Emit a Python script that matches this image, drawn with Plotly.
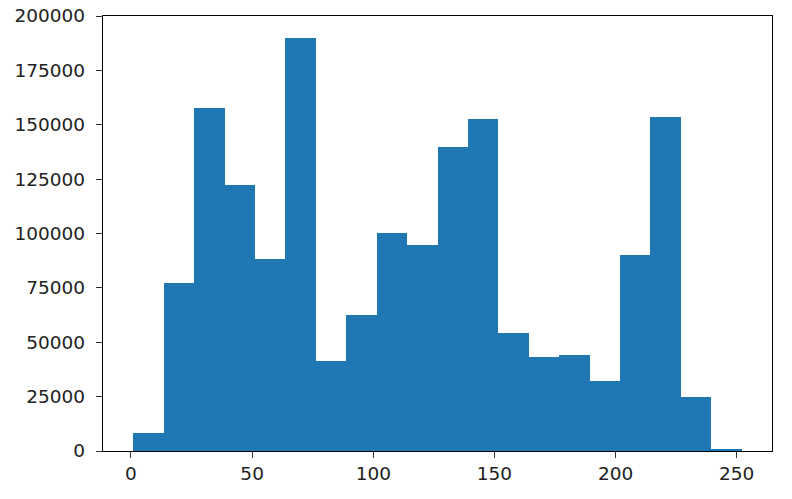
import numpy as np
import plotly.graph_objects as go

# Histogram data (20 bins from min to max value)
data_min = 1
data_max = 252
n_bins = 20
counts = [8300, 77200, 157900, 122300, 88200, 190100, 41500, 62500, 100200, 94800,
          139600, 152500, 54300, 43300, 44300, 32400, 90000, 153600, 24900, 900]
x_ticks = [0, 50, 100, 150, 200, 250]
y_ticks = [0, 25000, 50000, 75000, 100000, 125000, 150000, 175000, 200000]

edges = np.linspace(data_min, data_max, n_bins + 1)
centers = (edges[:-1] + edges[1:]) / 2
width = edges[1] - edges[0]
span = data_max - data_min
pad = 0.05 * span

fig = go.Figure(go.Bar(
    x=centers, y=counts, width=[width] * n_bins,
    marker=dict(color="#1f77b4", line=dict(width=0)),
))

axis_common = dict(
    showline=True, linecolor="#000000", linewidth=1.3, mirror=True,
    ticks="outside", ticklen=6, tickwidth=1.3, tickcolor="#333333",
    showgrid=False, zeroline=False, automargin=False,
    tickfont=dict(family="DejaVu Sans", size=18.5, color="#222222"),
)

fig.update_layout(
    width=792, height=499,
    margin=dict(l=103, r=20, t=16, b=48),
    paper_bgcolor="white", plot_bgcolor="white",
    bargap=0, showlegend=False,
    xaxis=dict(range=[data_min - pad, data_max + pad], tickvals=x_ticks,
               ticktext=[str(v) for v in x_ticks], **axis_common),
    yaxis=dict(range=[0, 200000], tickvals=y_ticks, ticklabelstandoff=7,
               ticktext=[str(v) for v in y_ticks], **axis_common),
)

fig.write_html(
    "out.html",
    config={"displayModeBar": False},
    post_script="document.body.style.margin='0';document.body.style.overflow='hidden';",
)
